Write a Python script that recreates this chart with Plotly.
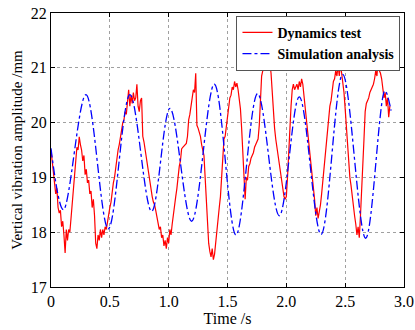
import plotly.graph_objects as go

# Dynamics test (measured), sampled every 0.01 s
test_t0 = 0.0
test_dt = 0.01
test_v = [
    19.50, 19.30, 19.05, 18.95, 18.70, 18.80, 18.45, 18.35, 18.40, 18.10,
    18.20, 17.95, 17.62, 18.05, 17.85, 18.05, 18.00, 18.25, 18.50, 18.75,
    19.10, 19.30, 19.55, 19.50, 19.74, 19.60, 19.50, 19.30, 19.40, 19.05,
    19.15, 18.90, 18.95, 18.70, 18.75, 18.45, 18.60, 18.30, 17.80, 17.70,
    17.95, 17.85, 18.05, 17.90, 18.05, 17.95, 18.10, 18.05, 18.20, 18.30,
    18.45, 18.55, 18.75, 18.90, 19.00, 19.20, 19.30, 19.50, 19.60, 19.75,
    19.85, 20.00, 20.05, 20.20, 20.15, 20.35, 20.60, 20.30, 20.50, 20.35,
    20.55, 20.40, 20.45, 20.70, 20.30, 20.20, 20.40, 20.45, 19.75, 19.65,
    19.50, 19.35, 19.20, 19.05, 18.90, 18.80, 18.65, 18.55, 18.50, 18.40,
    18.30, 18.15, 18.05, 18.10, 17.90, 17.95, 17.75, 17.85, 17.70, 17.90,
    17.80, 18.05, 17.95, 18.15, 18.35, 18.50, 18.65, 18.80, 19.05, 19.20,
    19.30, 19.52, 19.55, 19.58, 19.60, 19.62, 19.75, 20.05, 20.15, 20.35,
    20.45, 20.60, 20.55, 20.90, 19.95, 19.90, 19.82, 19.75, 19.60, 19.50,
    19.40, 19.00, 18.60, 18.10, 17.80, 17.65, 17.55, 17.70, 17.50, 17.60,
    17.85, 18.10, 18.30, 18.45, 18.65, 19.00, 19.55, 19.70, 19.75, 19.95,
    20.05, 20.25, 20.45, 20.50, 20.65, 20.60, 20.75, 20.65, 20.72, 20.60,
    20.45, 20.25, 19.90, 19.50, 19.05, 18.60, 19.00, 18.95, 19.20, 19.25,
    19.35, 19.40, 19.45, 19.55, 19.60, 19.65, 19.70, 19.95, 20.40, 20.85,
    20.95, 21.10, 21.05, 21.25, 21.40, 21.20, 21.10, 20.90, 20.50, 20.10,
    19.90, 19.70, 19.55, 19.35, 19.20, 19.05, 18.90, 18.80, 18.65, 18.60,
    18.65, 19.00, 19.50, 19.95, 20.30, 20.60, 20.70, 20.60, 20.65, 20.70,
    20.60, 20.75, 20.65, 20.80, 20.70, 20.50, 20.25, 20.00, 19.85, 19.70,
    19.50, 19.30, 19.05, 18.85, 18.60, 18.30, 18.45, 18.25, 18.35, 18.50,
    18.70, 18.95, 19.20, 19.40, 19.65, 19.90, 20.10, 20.30, 20.40, 20.60,
    20.75, 20.80, 20.95, 20.85, 21.05, 20.85, 21.10, 20.90, 20.75, 20.55,
    20.25, 19.90, 19.60, 19.30, 19.00, 18.85, 18.65, 18.40, 18.30, 18.15,
    17.95, 18.10, 17.90, 18.30, 18.70, 19.20, 19.70, 20.20, 20.35, 20.40,
    20.45, 20.55, 20.60, 20.65, 20.70, 20.80, 20.95, 20.85, 21.15, 20.95,
    20.90, 20.80, 20.65, 20.45, 20.55, 20.30, 20.45, 20.10, 20.30,
]
test_t = [round(test_t0 + i * test_dt, 2) for i in range(len(test_v))]

# Simulation analysis: turning points
sim_t = [0.0, 0.105, 0.297, 0.487, 0.671, 0.855, 1.011, 1.195, 1.388, 1.572,
         1.756, 1.94, 2.11, 2.295, 2.479, 2.674, 2.838, 2.89]
sim_v = [19.53, 18.41, 20.51, 18.06, 20.51, 18.38, 20.26, 18.20, 20.70, 17.95,
         20.53, 18.30, 20.47, 17.96, 20.88, 17.89, 20.58, 20.22]

x_ticks = [0, 0.5, 1.0, 1.5, 2.0, 2.5, 3.0]
x_tick_text = ["0", "0.5", "1.0", "1.5", "2.0", "2.5", "3.0"]
y_ticks = [17, 18, 19, 20, 21, 22]

FONT = "Liberation Serif"

fig = go.Figure()
fig.add_trace(go.Scatter(
    x=test_t, y=test_v, mode="lines", name="<b>Dynamics test</b>",
    line=dict(color="#ff0000", width=1.2),
))
fig.add_trace(go.Scatter(
    x=sim_t, y=sim_v, mode="lines", name="<b>Simulation analysis</b>",
    line=dict(color="#0000ff", width=1.3, dash="dashdot", shape="spline", smoothing=1.0),
))

axis_common = dict(
    showline=True, linecolor="black", linewidth=1, mirror="ticks",
    ticks="inside", ticklen=4, tickcolor="black", automargin=False,
    showgrid=True, gridcolor="#a0a0a0", griddash="3px,3px", gridwidth=0.8,
    zeroline=False, tickfont=dict(family=FONT, size=16, color="black"),
)

fig.update_layout(
    width=415, height=330,
    margin=dict(l=51, r=11, t=13, b=43),
    paper_bgcolor="white", plot_bgcolor="white",
    font=dict(family=FONT, color="black"),
    showlegend=True,
    legend=dict(
        x=0.99, y=0.99, xanchor="right", yanchor="top",
        bgcolor="white", bordercolor="#555555", borderwidth=1,
        font=dict(family=FONT, size=14, color="black"),
        tracegroupgap=0, itemwidth=30,
    ),
    xaxis=dict(
        range=[0, 3.0], tickvals=x_ticks, ticktext=x_tick_text,
        title=dict(text="Time /s", font=dict(family=FONT, size=16), standoff=2),
        **axis_common,
    ),
    yaxis=dict(
        range=[17, 22], tickvals=y_ticks,
        title=dict(text="Vertical vibration amplitude /mm", font=dict(family=FONT, size=15), standoff=4),
        **axis_common,
    ),
)

fig.write_html("out.html")
